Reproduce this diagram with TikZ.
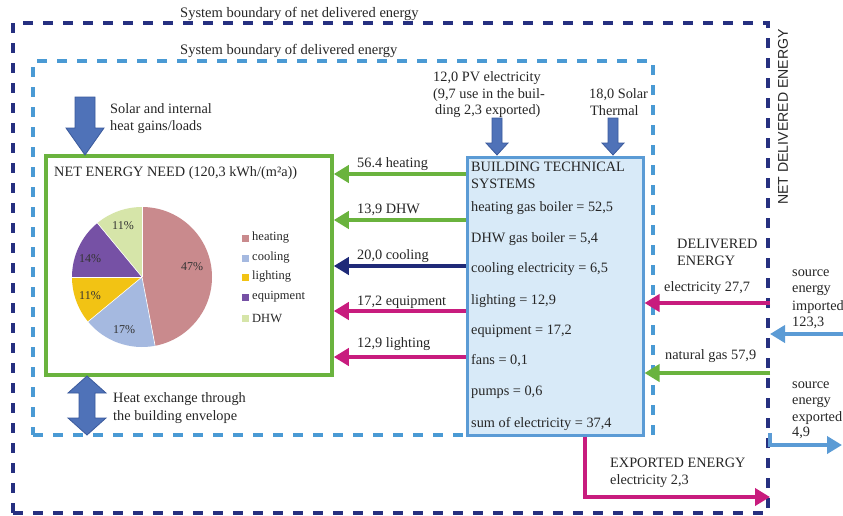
\documentclass[tikz,border=0pt]{standalone}
\usepackage{fontspec}
\setmainfont{Liberation Serif}
\newfontfamily\labelsans{Liberation Sans}
\usetikzlibrary{arrows.meta}

\definecolor{navyline}{HTML}{263080}
\definecolor{skyline}{HTML}{4A9AD4}
\definecolor{flowgreen}{HTML}{6AB33E}
\definecolor{flowmagenta}{HTML}{C81C7E}
\definecolor{flownavy}{HTML}{1F2A78}
\definecolor{flowsky}{HTML}{5B9BD5}
\definecolor{btsfill}{HTML}{D8EAF8}
\definecolor{btsedge}{HTML}{5B9BD5}
\definecolor{fatfill}{HTML}{4F72B8}
\definecolor{fatedge}{HTML}{3B5A9C}
\definecolor{pieheat}{HTML}{C98A8D}
\definecolor{piecool}{HTML}{A5B9E0}
\definecolor{pielight}{HTML}{F2C314}
\definecolor{pieequip}{HTML}{7651A5}
\definecolor{piedhw}{HTML}{D6E5A9}

\begin{document}
\begin{tikzpicture}[x=1pt, y=-1pt,
  font=\fontsize{14.3}{16}\selectfont,
  txt/.style={inner sep=0pt, anchor=west, text=black!85},
  netbox/.style={draw=navyline, line width=4pt, dash pattern=on 10pt off 10pt},
  delbox/.style={draw=skyline, line width=3.5pt, dash pattern=on 10pt off 10pt},
  flow/.style={line width=4pt, -{Triangle[length=15pt,width=17pt]}},
  fat/.style={fill=fatfill, draw=fatedge, line width=0.8pt, line join=miter},
  legsq/.style={minimum size=7pt, inner sep=0pt},
  legtxt/.style={txt, font=\fontsize{12.5}{14}\selectfont},
  pct/.style={inner sep=0pt, font=\fontsize{12}{13}\selectfont, text=black!80}]

\useasboundingbox (0,0) rectangle (843,515);
\fill[white] (0,0) rectangle (843,515);

% system boundaries
\node[netbox, minimum width=755, minimum height=490] (netb) at (390.5,268) {};
\node[delbox, minimum width=620, minimum height=374] (delb) at (343,248) {};
\node[txt, font=\fontsize{14.5}{16}\selectfont] (tnet) at (180,14) {System boundary of net delivered energy};
\node[txt, font=\fontsize{14.5}{16}\selectfont] (tdel) at (180,51) {System boundary of delivered energy};
\node[inner sep=0pt, rotate=90, font=\labelsans\fontsize{14.1}{16}\selectfont, text=black!85] (tnde) at (783,117) {NET DELIVERED ENERGY};

% net energy need box
\node[draw=flowgreen, line width=3.5pt, minimum width=286, minimum height=219, fill=white] (need) at (189,265.5) {};
\node[txt] (tneed) at (54,173) {NET ENERGY NEED (120,3 kWh/(m²a))};

% pie chart of the net energy need
\begin{scope}[shift={(142,277)}]
\begin{scope}[y=1pt]
  \fill[pieheat]  (0,0) -- (90:70pt) arc[start angle=90, end angle=-79.2, radius=70pt] -- cycle;
  \fill[piecool]  (0,0) -- (-79.2:70pt) arc[start angle=-79.2, end angle=-140.4, radius=70pt] -- cycle;
  \fill[pielight] (0,0) -- (-140.4:70pt) arc[start angle=-140.4, end angle=-180, radius=70pt] -- cycle;
  \fill[pieequip] (0,0) -- (180:70pt) arc[start angle=180, end angle=129.6, radius=70pt] -- cycle;
  \fill[piedhw]   (0,0) -- (129.6:70pt) arc[start angle=129.6, end angle=90, radius=70pt] -- cycle;
  \foreach \a in {90,-79.2,-140.4,180,129.6} \draw[white, line width=0.6pt] (0,0) -- (\a:70pt);
\end{scope}
\end{scope}
\node[pct] (p47) at (192,267) {47\%};
\node[pct] (p17) at (124,330) {17\%};
\node[pct] (p11a) at (90,296) {11\%};
\node[pct] (p14) at (90,259) {14\%};
\node[pct] (p11b) at (123,226) {11\%};

% legend
\node[legsq, fill=pieheat]  (lq1) at (245.5,238) {};
\node[legsq, fill=piecool]  (lq2) at (245.5,258) {};
\node[legsq, fill=pielight] (lq3) at (245.5,277) {};
\node[legsq, fill=pieequip] (lq4) at (245.5,297) {};
\node[legsq, fill=piedhw]   (lq5) at (245.5,318) {};
\node[legtxt] (lt1) at (252,238) {heating};
\node[legtxt] (lt2) at (252,258) {cooling};
\node[legtxt] (lt3) at (252,277) {lighting};
\node[legtxt] (lt4) at (252,297) {equipment};
\node[legtxt] (lt5) at (252,318) {DHW};

% building technical systems
\node[draw=btsedge, fill=btsfill, line width=3pt, minimum width=176, minimum height=278] (bts) at (555,296) {};
\node[txt] (b1)  at (471,167) {BUILDING TECHNICAL};
\node[txt] (b2)  at (471,184) {SYSTEMS};
\node[txt] (b3)  at (471,208) {heating gas boiler = 52,5};
\node[txt] (b4)  at (471,239) {DHW gas boiler = 5,4};
\node[txt] (b5)  at (471,269) {cooling electricity = 6,5};
\node[txt] (b6)  at (471,301) {lighting = 12,9};
\node[txt] (b7)  at (471,331) {equipment = 17,2};
\node[txt] (b8)  at (471,361) {fans = 0,1};
\node[txt] (b9)  at (471,392) {pumps = 0,6};
\node[txt] (b10) at (471,424) {sum of electricity = 37,4};

% flows from the technical systems to the net energy need
\coordinate (rheat)  at (0,174);
\coordinate (rdhw)   at (0,220);
\coordinate (rcool)  at (0,266);
\coordinate (requip) at (0,311);
\coordinate (rlight) at (0,357);
\draw[flow, flowgreen]   (bts.west |- rheat)  -- (need.east |- rheat);
\draw[flow, flowgreen]   (bts.west |- rdhw)   -- (need.east |- rdhw);
\draw[flow, flownavy]    (bts.west |- rcool)  -- (need.east |- rcool);
\draw[flow, flowmagenta] (bts.west |- requip) -- (need.east |- requip);
\draw[flow, flowmagenta] (bts.west |- rlight) -- (need.east |- rlight);
\node[txt] (fl1) at (357,164) {56.4 heating};
\node[txt] (fl2) at (357,210) {13,9 DHW};
\node[txt] (fl3) at (357,256) {20,0 cooling};
\node[txt] (fl4) at (357,302) {17,2 equipment};
\node[txt] (fl5) at (357,344) {12,9 lighting};

% on-site renewables entering the technical systems
\fill[fat] (492,118) -- (502,118) -- (502,143) -- (508,143) -- (497,155) -- (486,143) -- (492,143) -- cycle;
\fill[fat] (608,118) -- (618,118) -- (618,143) -- (624,143) -- (613,155) -- (602,143) -- (608,143) -- cycle;
\node[txt] (pv1) at (433,78)  {12,0 PV electricity};
\node[txt] (pv2) at (433,95)  {(9,7 use in the buil-};
\node[txt] (pv3) at (435,111) {ding 2,3 exported)};
\node[txt] (st1) at (589,95)  {18,0 Solar};
\node[txt] (st2) at (590,111) {Thermal};

% heat gains and envelope exchange
\fill[fat] (75,97) -- (95,97) -- (95,128) -- (104,128) -- (85,155) -- (66,128) -- (75,128) -- cycle;
\node[txt] (sg1) at (110,109) {Solar and internal};
\node[txt] (sg2) at (110,127) {heat gains/loads};
\fill[fat] (87,376) -- (106,393) -- (95,393) -- (95,418) -- (106,418) -- (87,435) -- (68,418) -- (79,418) -- (79,393) -- (68,393) -- cycle;
\node[txt] (he1) at (113,399) {Heat exchange through};
\node[txt] (he2) at (113,417) {the building envelope};

% delivered energy
\node[txt] (de1) at (677,244) {DELIVERED};
\node[txt] (de2) at (677,261) {ENERGY};
\coordinate (relec) at (0,303);
\coordinate (rgas)  at (0,373);
\draw[flow, flowmagenta] (netb.east |- relec) -- (bts.east |- relec);
\draw[flow, flowgreen]   (netb.east |- rgas)  -- (bts.east |- rgas);
\node[txt] (de3) at (664,288) {electricity 27,7};
\node[txt] (de4) at (665,356) {natural gas 57,9};

% source energy across the outer boundary
\coordinate (srcin)  at (843,334);
\coordinate (srcout) at (842,445);
\coordinate (srcturn) at (770,433);
\draw[flow, flowsky] (srcin) -- (netb.east |- srcin);
\draw[flow, flowsky] (srcturn) |- (srcout);
\node[txt] (si1) at (792,273) {source};
\node[txt] (si2) at (792,290) {energy};
\node[txt] (si3) at (792,307) {imported};
\node[txt] (si4) at (792,323) {123,3};
\node[txt] (so1) at (792,385) {source};
\node[txt] (so2) at (792,402) {energy};
\node[txt] (so3) at (792,418) {exported};
\node[txt] (so4) at (792,433) {4,9};

% exported electricity
\coordinate (expturn) at (585,497);
\draw[flow, flowmagenta] (bts.south -| expturn) |- (netb.east |- expturn);
\node[txt] (ex1) at (610,463) {EXPORTED ENERGY};
\node[txt] (ex2) at (610,481) {electricity 2,3};

\end{tikzpicture}
\end{document}
